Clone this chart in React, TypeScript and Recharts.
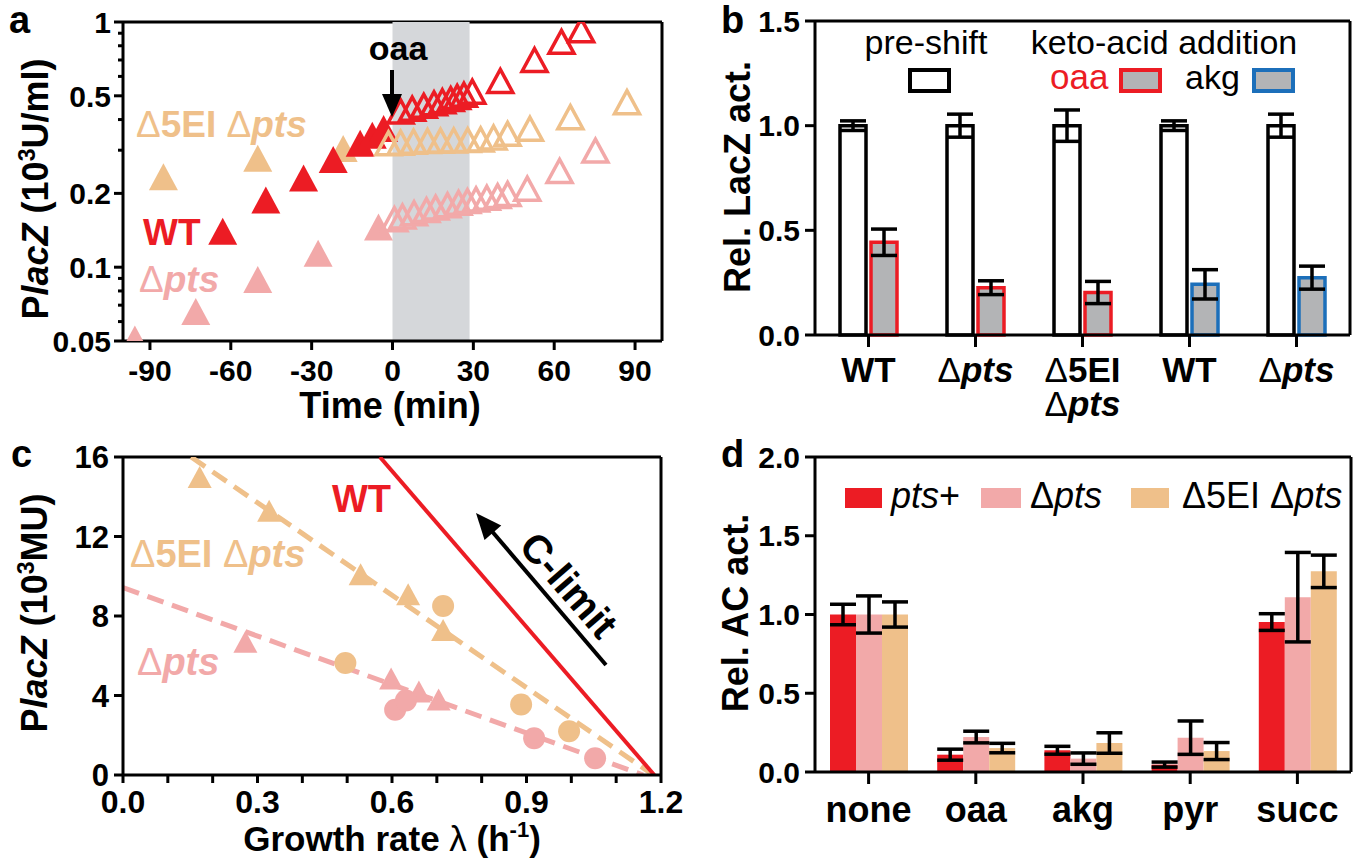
import React from 'react';
import {
  ScatterChart, Scatter, ComposedChart, Line, BarChart, Bar, ErrorBar, Cell,
  XAxis, YAxis, CartesianGrid, ReferenceArea,
} from 'recharts';

const RED = '#EC1C24';
const PINK = '#F2A9A9';
const TAN = '#EFC08A';
const BLUE = '#1C6FBA';
const GRAY = '#B3B4B6';
const BAND = '#D5D7DA';
const FONT = '"Liberation Sans", Arial, Helvetica, sans-serif';

// ---- a: PlacZ vs time, log scale ----
const aWtPreTime = [-63, -47, -33, -22, -12, -7.5, -3.3];
const aWtPreVal = [0.14, 0.188, 0.231, 0.275, 0.32, 0.345, 0.368];
const aWtPostTime = [3, 7.3, 11.6, 15.4, 18.5, 21.6, 24, 26.5, 29.6, 40, 52.7, 62.7, 70];
const aWtPostVal = [0.432, 0.443, 0.455, 0.466, 0.475, 0.485, 0.495, 0.505, 0.52, 0.575, 0.7, 0.83, 0.925];
const aEiPreTime = [-85, -50, -18.3];
const aEiPreVal = [0.234, 0.278, 0.305];
const aEiPostTime = [-1.5, 3, 7.8, 13, 17.8, 22.7, 27.9, 32.7, 37.5, 42.7, 51, 66, 87];
const aEiPostVal = [0.32, 0.322, 0.325, 0.327, 0.328, 0.329, 0.33, 0.332, 0.338, 0.35, 0.367, 0.409, 0.471];
const aPtsPreTime = [-95.6, -73, -50, -27.6, -5.2];
const aPtsPreVal = [0.051, 0.066, 0.089, 0.114, 0.146];
const aPtsPostTime = [0.7, 3.7, 8, 12.6, 16, 20.4, 24.5, 27.8, 31, 35, 39, 42.7, 50, 62, 75.3];
const aPtsPostVal = [0.157, 0.161, 0.166, 0.171, 0.175, 0.179, 0.183, 0.186, 0.189, 0.192, 0.195, 0.199, 0.209, 0.247, 0.299];
const aShift = [0, 28.6];
const aTimeTicks = [-90, -60, -30, 0, 30, 60, 90];
const aLogTicks = [0.05, 0.06, 0.07, 0.08, 0.09, 0.1, 0.2, 0.3, 0.4, 0.5, 0.6, 0.7, 0.8, 0.9, 1];
const aLogMajor = [0.05, 0.1, 0.2, 0.5, 1];

// ---- b: relative LacZ activity ----
const bStrains = ['WT', 'Δpts', 'Δ5EI\nΔpts', 'WT', 'Δpts'];
const bPre = [1, 1, 1, 1, 1];
const bPreErr = [0.023, 0.055, 0.075, 0.023, 0.055];
const bAdd = [0.443, 0.226, 0.203, 0.242, 0.274];
const bAddErr = [0.063, 0.033, 0.053, 0.07, 0.055];
const bAcid = ['oaa', 'oaa', 'oaa', 'akg', 'akg'];
const bTicks = [0, 0.5, 1, 1.5];

// ---- c: PlacZ vs growth rate ----
const cEiTriX = [0.171, 0.326, 0.53, 0.636, 0.714];
const cEiTriY = [15.0, 13.3, 10.1, 9.1, 7.3];
const cEiDotX = [0.496, 0.714, 0.888, 0.995];
const cEiDotY = [5.64, 8.5, 3.55, 2.2];
const cPtsTriX = [0.273, 0.598, 0.66, 0.704];
const cPtsTriY = [6.7, 4.85, 4.2, 3.8];
const cPtsDotX = [0.607, 0.631, 0.917, 1.053];
const cPtsDotY = [3.28, 3.75, 1.85, 0.84];
const cWtFitX = [0.573, 1.185];
const cWtFitY = [16, 0];
const cEiFitX = [0.152, 1.183];
const cEiFitY = [16, 0];
const cPtsFitX = [0, 1.16];
const cPtsFitY = [9.43, 0];
const cRateTicks = [0, 0.1, 0.2, 0.3, 0.4, 0.5, 0.6, 0.7, 0.8, 0.9, 1.0, 1.1, 1.2];
const cLacTicks = [0, 4, 8, 12, 16];

// ---- d: relative AC activity ----
const dAcids = ['none', 'oaa', 'akg', 'pyr', 'succ'];
const dPtsPlus = [1.0, 0.11, 0.138, 0.047, 0.952];
const dPtsPlusErr = [0.065, 0.035, 0.025, 0.016, 0.053];
const dPts = [1.0, 0.222, 0.085, 0.218, 1.11];
const dPtsErr = [0.118, 0.037, 0.036, 0.106, 0.284];
const dEi = [1.0, 0.152, 0.184, 0.133, 1.274];
const dEiErr = [0.08, 0.03, 0.065, 0.054, 0.103];
const dTicks = [0, 0.5, 1, 1.5, 2];

const pts = (xs: number[], ys: number[]) => xs.map((x, i) => ({ x, y: ys[i] }));

const bData = bStrains.map((s, i) => ({ id: i, pre: bPre[i], preErr: bPreErr[i], add: bAdd[i], addErr: bAddErr[i] }));
const dData = dAcids.map((a, i) => ({
  acid: a, p: dPtsPlus[i], pErr: dPtsPlusErr[i], d: dPts[i], dErr: dPtsErr[i], e: dEi[i], eErr: dEiErr[i],
}));

const axisLine = { stroke: '#000', strokeWidth: 3 };
const tickLine = { stroke: '#000', strokeWidth: 3 };
const tickFont = (size: number) => ({ fill: '#000', fontSize: size, fontWeight: 700, fontFamily: FONT });
const frameTop = ({ offset }: any) => [offset.top];
const frameRight = ({ offset }: any) => [offset.left + offset.width];
const Frame = () => (
  <CartesianGrid stroke="#000" strokeWidth={3} horizontalCoordinatesGenerator={frameTop} verticalCoordinatesGenerator={frameRight} />
);

const triangle = (color: string, open: boolean, w: number, h: number) => (p: any) => {
  const { cx, cy } = p;
  if (cx == null || cy == null) return <g />;
  return (
    <path
      d={`M${cx},${cy - h / 2}L${cx + w / 2},${cy + h / 2}L${cx - w / 2},${cy + h / 2}Z`}
      fill={open ? 'none' : color}
      stroke={color}
      strokeWidth={open ? 3.5 : 0}
    />
  );
};
const dot = (color: string, r: number) => (p: any) => {
  const { cx, cy } = p;
  if (cx == null || cy == null) return <g />;
  return <circle cx={cx} cy={cy} r={r} fill={color} />;
};

// Δ thin, pts italic
function rich(text: string) {
  return text.split(/(Δ|pts)/).filter(Boolean).map((p, i) => {
    if (p === 'Δ') return <tspan key={i} fontWeight={400}>Δ</tspan>;
    if (p === 'pts') return <tspan key={i} fontStyle="italic">pts</tspan>;
    return <tspan key={i}>{p}</tspan>;
  });
}

const LogTick = (props: any) => {
  const { x, y, payload } = props;
  const ax = x + 12;
  const major = aLogMajor.includes(payload.value);
  return (
    <g>
      <line x1={ax - (major ? 9 : 5)} y1={y} x2={ax} y2={y} stroke="#000" strokeWidth={3} />
      {major && (
        <text x={ax - 12} y={y} dy="0.36em" textAnchor="end" {...tickFont(30)}>
          {String(payload.value)}
        </text>
      )}
    </g>
  );
};

const StrainTick = (props: any) => {
  const { x, y, payload } = props;
  const lines = bStrains[payload.value].split('\n');
  return (
    <g>
      {lines.map((l, i) => (
        <text key={i} x={x} y={y + 35 + i * 34} textAnchor="middle" {...tickFont(35)}>
          {rich(l)}
        </text>
      ))}
    </g>
  );
};

function arrowHead(tx: number, ty: number, fx: number, fy: number, len: number, half: number) {
  const dx = tx - fx;
  const dy = ty - fy;
  const n = Math.hypot(dx, dy);
  const ux = dx / n;
  const uy = dy / n;
  const bx = tx - ux * len;
  const by = ty - uy * len;
  return `${tx},${ty} ${bx - uy * half},${by + ux * half} ${bx + uy * half},${by - ux * half}`;
}

const T = (props: any) => <text fontFamily={FONT} fontWeight={700} {...props} />;

function Overlay() {
  return (
    <svg width={1360} height={865} style={{ position: 'absolute', left: 0, top: 0, pointerEvents: 'none' }}>
      {/* panel letters */}
      <T x={9} y={33} fontSize={38}>a</T>
      <T x={721} y={33} fontSize={38}>b</T>
      <T x={11} y={467} fontSize={38}>c</T>
      <T x={721} y={467} fontSize={38}>d</T>

      {/* a */}
      <T transform="translate(48,189) rotate(-90)" textAnchor="middle" fontSize={36}>
        P<tspan fontStyle="italic">lacZ</tspan> (10<tspan fontSize={23} dy={-13}>3</tspan><tspan dy={13}>U/ml)</tspan>
      </T>
      <T x={390} y={418} textAnchor="middle" fontSize={36}>Time (min)</T>
      <T x={398} y={60} textAnchor="middle" fontSize={34}>oaa</T>
      <line x1={392} y1={70} x2={392} y2={98} stroke="#000" strokeWidth={4} />
      <polygon points={arrowHead(392, 117, 392, 70, 23, 10)} fill="#000" />
      <T x={136} y={137} fontSize={37} fill={TAN}>{rich('Δ5EI Δpts')}</T>
      <T x={143} y={245} fontSize={37} fill={RED}>WT</T>
      <T x={139} y={292} fontSize={37} fill={PINK}>{rich('Δpts')}</T>

      {/* b */}
      <T transform="translate(750,177) rotate(-90)" textAnchor="middle" fontSize={36}>Rel. LacZ act.</T>
      <T x={926} y={54} textAnchor="middle" fontSize={34} fontWeight={400}>pre-shift</T>
      <T x={1164} y={54} textAnchor="middle" fontSize={34} fontWeight={400}>keto-acid addition</T>
      <rect x={910} y={70} width={39} height={21} fill="#fff" stroke="#000" strokeWidth={4} />
      <T x={1050} y={89} fontSize={35} fontWeight={400} fill={RED}>oaa</T>
      <rect x={1121} y={70} width={39} height={21} fill={GRAY} stroke={RED} strokeWidth={4} />
      <T x={1185} y={89} fontSize={34} fontWeight={400}>akg</T>
      <rect x={1254} y={70} width={39} height={21} fill={GRAY} stroke={BLUE} strokeWidth={4} />

      {/* c */}
      <T transform="translate(47,613) rotate(-90)" textAnchor="middle" fontSize={36}>
        P<tspan fontStyle="italic">lacZ</tspan> (10<tspan fontSize={23} dy={-13}>3</tspan><tspan dy={13}>MU)</tspan>
      </T>
      <T x={392} y={851} textAnchor="middle" fontSize={35}>
        Growth rate <tspan fontWeight={400}>λ</tspan> (h<tspan fontSize={22} dy={-14}>-1</tspan><tspan dy={14}>)</tspan>
      </T>
      <T x={332} y={512} fontSize={38} fill={RED}>WT</T>
      <T x={130} y={567} fontSize={38} fill={TAN}>{rich('Δ5EI Δpts')}</T>
      <T x={137} y={675} fontSize={38} fill={PINK}>{rich('Δpts')}</T>
      <line x1={606} y1={665} x2={490} y2={529} stroke="#000" strokeWidth={4} />
      <polygon points={arrowHead(476, 513, 606, 665, 26, 11)} fill="#000" />
      <T transform="translate(569,585) rotate(49)" textAnchor="middle" dy="0.35em" fontSize={40}>C-limit</T>

      {/* d */}
      <T transform="translate(748,613) rotate(-90)" textAnchor="middle" fontSize={36}>Rel. AC act.</T>
      <rect x={845} y={488} width={37} height={20} fill={RED} />
      <T x={891} y={508} fontSize={36} fontWeight={400}><tspan fontStyle="italic">pts</tspan>+</T>
      <rect x={981} y={488} width={40} height={20} fill={PINK} />
      <T x={1030} y={508} fontSize={36} fontWeight={400}>{rich('Δpts')}</T>
      <rect x={1131} y={488} width={38} height={20} fill={TAN} />
      <T x={1182} y={508} fontSize={36} fontWeight={400}>{rich('Δ5EI Δpts')}</T>
    </svg>
  );
}

function PanelA() {
  return (
    <ScatterChart width={680} height={430} margin={{ top: 22, right: 18, bottom: 0, left: 0 }}>
      <Frame />
      <XAxis type="number" dataKey="x" domain={[-100, 100]} ticks={aTimeTicks} interval={0} height={89}
        axisLine={axisLine} tickLine={tickLine} tickSize={9} tickMargin={10} tick={tickFont(30)} allowDataOverflow />
      <YAxis type="number" dataKey="y" scale="log" domain={[0.05, 1]} ticks={aLogTicks} interval={0} width={123}
        axisLine={axisLine} tickLine={false} tickSize={9} tickMargin={3} tick={<LogTick />} allowDataOverflow />
      <ReferenceArea x1={aShift[0]} x2={aShift[1]} y1={0.05} y2={1} fill={BAND} fillOpacity={1} stroke="none" />
      <Scatter data={pts(aEiPreTime, aEiPreVal)} shape={triangle(TAN, false, 29, 27)} isAnimationActive={false} />
      <Scatter data={pts(aPtsPreTime, aPtsPreVal)} shape={triangle(PINK, false, 29, 27)} isAnimationActive={false} />
      <Scatter data={pts(aWtPreTime, aWtPreVal)} shape={triangle(RED, false, 29, 27)} isAnimationActive={false} />
      <Scatter data={pts(aPtsPostTime, aPtsPostVal)} shape={triangle(PINK, true, 25, 23)} isAnimationActive={false} />
      <Scatter data={pts(aEiPostTime, aEiPostVal)} shape={triangle(TAN, true, 25, 23)} isAnimationActive={false} />
      <Scatter data={pts(aWtPostTime, aWtPostVal)} shape={triangle(RED, true, 25, 23)} isAnimationActive={false} />
    </ScatterChart>
  );
}

function PanelB() {
  return (
    <BarChart width={680} height={430} data={bData} margin={{ top: 21, right: 10, bottom: 0, left: 0 }} barSize={26} barGap={5}>
      <Frame />
      <XAxis dataKey="id" type="category" height={95} axisLine={axisLine} tickLine={tickLine} tickSize={12} tickMargin={0}
        tick={<StrainTick />} interval={0} />
      <YAxis type="number" domain={[0, 1.5]} ticks={bTicks} interval={0} width={135} axisLine={axisLine} tickLine={tickLine}
        tickSize={10} tickMargin={5} tick={tickFont(30)} tickFormatter={(v: number) => v.toFixed(1)} />
      <Bar dataKey="pre" fill="#fff" stroke="#000" strokeWidth={3.5} isAnimationActive={false}>
        <ErrorBar dataKey="preErr" width={13} stroke="#000" strokeWidth={3.5} />
      </Bar>
      <Bar dataKey="add" fill={GRAY} strokeWidth={3.5} isAnimationActive={false}>
        {bAcid.map((a, i) => <Cell key={i} stroke={a === 'oaa' ? RED : BLUE} />)}
        <ErrorBar dataKey="addErr" width={13} stroke="#000" strokeWidth={3.5} />
      </Bar>
    </BarChart>
  );
}

function PanelC() {
  return (
    <ComposedChart width={710} height={435} margin={{ top: 27, right: 49, bottom: 0, left: 0 }}>
      <Frame />
      <XAxis type="number" dataKey="x" domain={[0, 1.2]} ticks={cRateTicks} interval={0} height={90}
        axisLine={axisLine} tickLine={tickLine} tickSize={8} tickMargin={7} tick={tickFont(32)} allowDataOverflow
        tickFormatter={(v: number) => (Math.round(v * 10) % 3 === 0 ? v.toFixed(1) : '')} />
      <YAxis type="number" dataKey="y" domain={[0, 16]} ticks={cLacTicks} interval={0} width={123}
        axisLine={axisLine} tickLine={tickLine} tickSize={9} tickMargin={5} tick={tickFont(31)} allowDataOverflow />
      <Line data={pts(cPtsFitX, cPtsFitY)} dataKey="y" type="linear" stroke={PINK} strokeWidth={5} strokeDasharray="17 9"
        dot={false} activeDot={false} isAnimationActive={false} />
      <Line data={pts(cEiFitX, cEiFitY)} dataKey="y" type="linear" stroke={TAN} strokeWidth={5} strokeDasharray="17 9"
        dot={false} activeDot={false} isAnimationActive={false} />
      <Line data={pts(cWtFitX, cWtFitY)} dataKey="y" type="linear" stroke={RED} strokeWidth={4}
        dot={false} activeDot={false} isAnimationActive={false} />
      <Scatter data={pts(cEiTriX, cEiTriY)} shape={triangle(TAN, false, 24, 22)} isAnimationActive={false} />
      <Scatter data={pts(cEiDotX, cEiDotY)} shape={dot(TAN, 11)} isAnimationActive={false} />
      <Scatter data={pts(cPtsTriX, cPtsTriY)} shape={triangle(PINK, false, 24, 22)} isAnimationActive={false} />
      <Scatter data={pts(cPtsDotX, cPtsDotY)} shape={dot(PINK, 11)} isAnimationActive={false} />
    </ComposedChart>
  );
}

function PanelD() {
  return (
    <BarChart width={680} height={435} data={dData} margin={{ top: 27, right: 9, bottom: 0, left: 0 }} barSize={26} barGap={0}>
      <Frame />
      <XAxis dataKey="acid" type="category" height={93} axisLine={axisLine} tickLine={tickLine} tickSize={12} tickMargin={12}
        tick={tickFont(36)} interval={0} />
      <YAxis type="number" domain={[0, 2]} ticks={dTicks} interval={0} width={135} axisLine={axisLine} tickLine={tickLine}
        tickSize={10} tickMargin={5} tick={tickFont(30)} tickFormatter={(v: number) => v.toFixed(1)} />
      <Bar dataKey="p" fill={RED} isAnimationActive={false}>
        <ErrorBar dataKey="pErr" width={13} stroke="#000" strokeWidth={3.5} />
      </Bar>
      <Bar dataKey="d" fill={PINK} isAnimationActive={false}>
        <ErrorBar dataKey="dErr" width={13} stroke="#000" strokeWidth={3.5} />
      </Bar>
      <Bar dataKey="e" fill={TAN} isAnimationActive={false}>
        <ErrorBar dataKey="eErr" width={13} stroke="#000" strokeWidth={3.5} />
      </Bar>
    </BarChart>
  );
}

export default function App() {
  return (
    <div style={{ position: 'absolute', left: 0, top: 0, width: 1360, height: 865, background: '#fff', fontFamily: FONT }}>
      <div style={{ position: 'absolute', left: 0, top: 0 }}><PanelA /></div>
      <div style={{ position: 'absolute', left: 680, top: 0 }}><PanelB /></div>
      <div style={{ position: 'absolute', left: 0, top: 430 }}><PanelC /></div>
      <div style={{ position: 'absolute', left: 680, top: 430 }}><PanelD /></div>
      <Overlay />
    </div>
  );
}
